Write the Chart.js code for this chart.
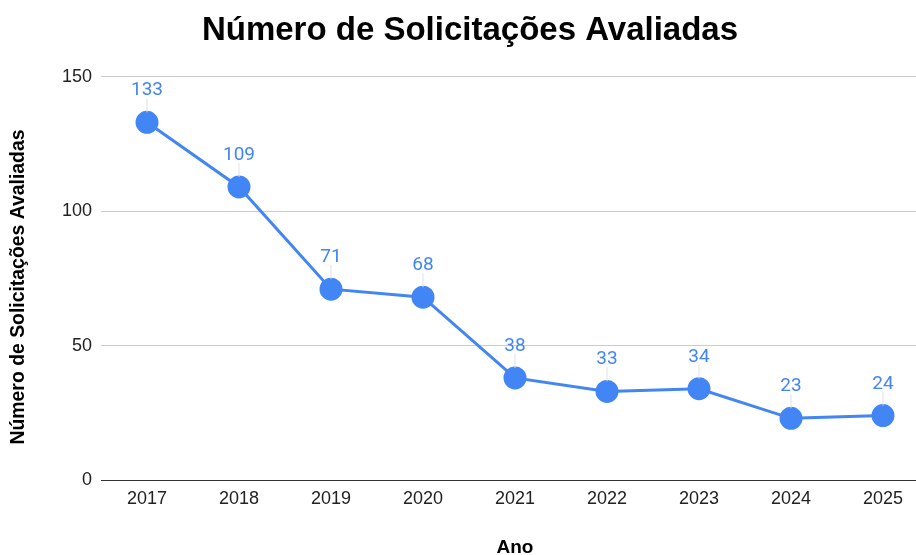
<!DOCTYPE html>
<html>
<head>
<meta charset="utf-8">
<script src="https://cdn.jsdelivr.net/npm/chart.js@4"></script>
<style>
  body { margin: 0; overflow: hidden; background: #fff; }
  #wrap { width: 942px; height: 555px; }
</style>
</head>
<body>
<div id="wrap"><canvas id="myChart" width="942" height="555"></canvas></div>
<script>
var anos = ["2017", "2018", "2019", "2020", "2021", "2022", "2023", "2024", "2025"];
var solicitacoes = [133, 109, 71, 68, 38, 33, 34, 23, 24];
var yTicks = [0, 50, 100, 150];

var azul = "#4285F4";
var fonte = "'Liberation Sans', Arial, sans-serif";
var tituloY = "Número de Solicitações Avaliadas";

// labels above points with a small leader line, plus the y axis title
var valueLabels = {
  id: "valueLabels",
  afterDatasetsDraw: function(chart) {
    var ctx = chart.ctx;
    var meta = chart.getDatasetMeta(0);
    ctx.save();
    meta.data.forEach(function(pt, i) {
      ctx.strokeStyle = "#e0e0e0";
      ctx.lineWidth = 1;
      ctx.beginPath();
      ctx.moveTo(pt.x, pt.y - 10);
      ctx.lineTo(pt.x, pt.y - 24);
      ctx.stroke();
      ctx.fillStyle = azul;
      ctx.font = "19px Roboto";
      ctx.textAlign = "center";
      ctx.textBaseline = "alphabetic";
      ctx.fillText(solicitacoes[i], pt.x, pt.y - 27);
    });
    // y axis title
    ctx.translate(19, 287);
    ctx.rotate(-Math.PI / 2);
    ctx.fillStyle = "#000";
    ctx.font = "bold 19.4px " + fonte;
    ctx.textAlign = "center";
    ctx.textBaseline = "middle";
    ctx.fillText(tituloY, 0, 0);
    ctx.restore();
  }
};

var ctx = document.getElementById("myChart").getContext("2d");
var myChart = new Chart(ctx, {
  type: "line",
  data: {
    labels: anos,
    datasets: [
      {
        label: "Número de Solicitações Avaliadas",
        data: solicitacoes,
        borderColor: azul,
        backgroundColor: azul,
        borderWidth: 3,
        pointRadius: 10,
        pointHoverRadius: 10,
        fill: false,
        tension: 0
      }
    ]
  },
  options: {
    responsive: false,
    animation: false,
    layout: { padding: { left: 0, right: 2, top: 0, bottom: 0 } },
    plugins: {
      legend: { display: false },
      tooltip: { enabled: false },
      title: {
        display: true,
        text: "Número de Solicitações Avaliadas",
        color: "#000",
        font: { family: fonte, size: 33, weight: "bold" },
        padding: { top: 11, bottom: 26 }
      }
    },
    scales: {
      x: {
        offset: true,
        grid: { display: false, drawTicks: false },
        border: { display: false },
        ticks: {
          color: "#222",
          font: { family: fonte, size: 18 },
          padding: 8
        },
        title: {
          display: true,
          text: "Ano",
          color: "#000",
          font: { family: fonte, size: 19, weight: "bold", lineHeight: 0.8 },
          padding: { top: 22, bottom: 0 }
        }
      },
      y: {
        min: 0,
        max: 150,
        afterBuildTicks: function(axis) {
          axis.ticks = yTicks.map(function(v) { return { value: v }; });
        },
        afterFit: function(axis) {
          axis.width = 101;
        },
        border: { display: false },
        grid: {
          color: function(c) { return c.tick && c.tick.value === 0 ? "#333" : "#ccc"; },
          lineWidth: 1,
          drawTicks: false
        },
        ticks: {
          color: "#222",
          font: { family: fonte, size: 18 },
          padding: 9
        },
        title: { display: false }
      }
    }
  },
  plugins: [valueLabels]
});
</script>
</body>
</html>
